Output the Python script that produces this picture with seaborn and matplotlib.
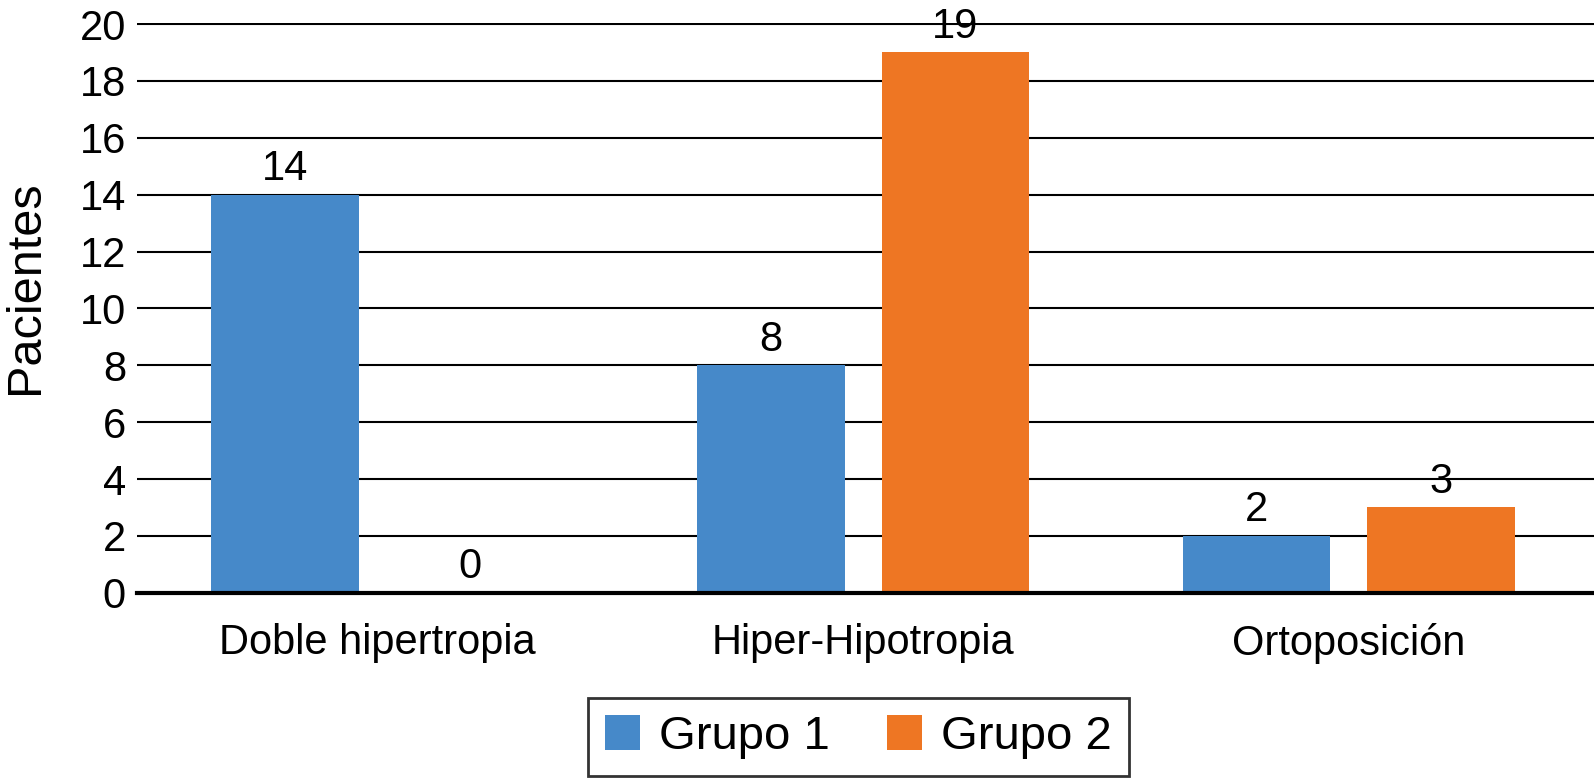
import matplotlib
matplotlib.use("Agg")
import matplotlib.pyplot as plt
import seaborn as sns
import pandas as pd

categories = ["Doble hipertropia", "Hiper-Hipotropia", "Ortoposición"]
grupo1 = [14, 8, 2]
grupo2 = [0, 19, 3]
series_names = ["Grupo 1", "Grupo 2"]
colors = ["#4689C9", "#EE7623"]
yticks = [0, 2, 4, 6, 8, 10, 12, 14, 16, 18, 20]

df = pd.DataFrame({
    "Categoría": categories * 2,
    "Pacientes": grupo1 + grupo2,
    "Grupo": [series_names[0]] * 3 + [series_names[1]] * 3,
})

sns.set_style("white")
plt.rcParams["font.family"] = ["Liberation Sans", "DejaVu Sans"]
plt.rcParams["text.color"] = "black"
plt.rcParams["xtick.color"] = "black"
plt.rcParams["ytick.color"] = "black"
plt.rcParams["axes.labelcolor"] = "black"

fig, ax = plt.subplots(figsize=(15.94, 7.80), dpi=100)
fig.subplots_adjust(left=0.086, right=1.0, top=0.971, bottom=0.24)

sns.barplot(data=df, x="Categoría", y="Pacientes", hue="Grupo",
            palette=colors, width=0.76, gap=0.2, ax=ax, saturation=1,
            linewidth=0)

for cont in ax.containers:
    ax.bar_label(cont, fmt="%d", padding=4, fontsize=30, color="black")

ax.set_ylim(0, 20.05)
ax.set_xlim(-0.495, 2.505)
ax.set_yticks(yticks)
ax.set_yticklabels([str(t) for t in yticks])
ax.yaxis.grid(True, color="black", linewidth=1.5)
ax.set_axisbelow(True)
for s in ["top", "right", "left"]:
    ax.spines[s].set_visible(False)
ax.spines["bottom"].set_color("black")
ax.spines["bottom"].set_linewidth(3)
ax.tick_params(axis="y", length=0, labelsize=30, pad=8)
ax.tick_params(axis="x", length=0, labelsize=30, pad=22)
ax.set_xlabel("")
ax.set_ylabel("Pacientes", fontsize=35)
ax.yaxis.set_label_coords(-0.061, 0.536)

leg = ax.legend(loc="upper center", bbox_to_anchor=(0.495, -0.143), ncol=2,
                fontsize=34, frameon=True, fancybox=False, handlelength=0.75,
                handleheight=0.75, handletextpad=0.4, columnspacing=1.2,
                borderpad=0.36)
leg.get_frame().set_edgecolor("black")
leg.get_frame().set_linewidth(2)

fig.savefig("out.png", dpi=100)
